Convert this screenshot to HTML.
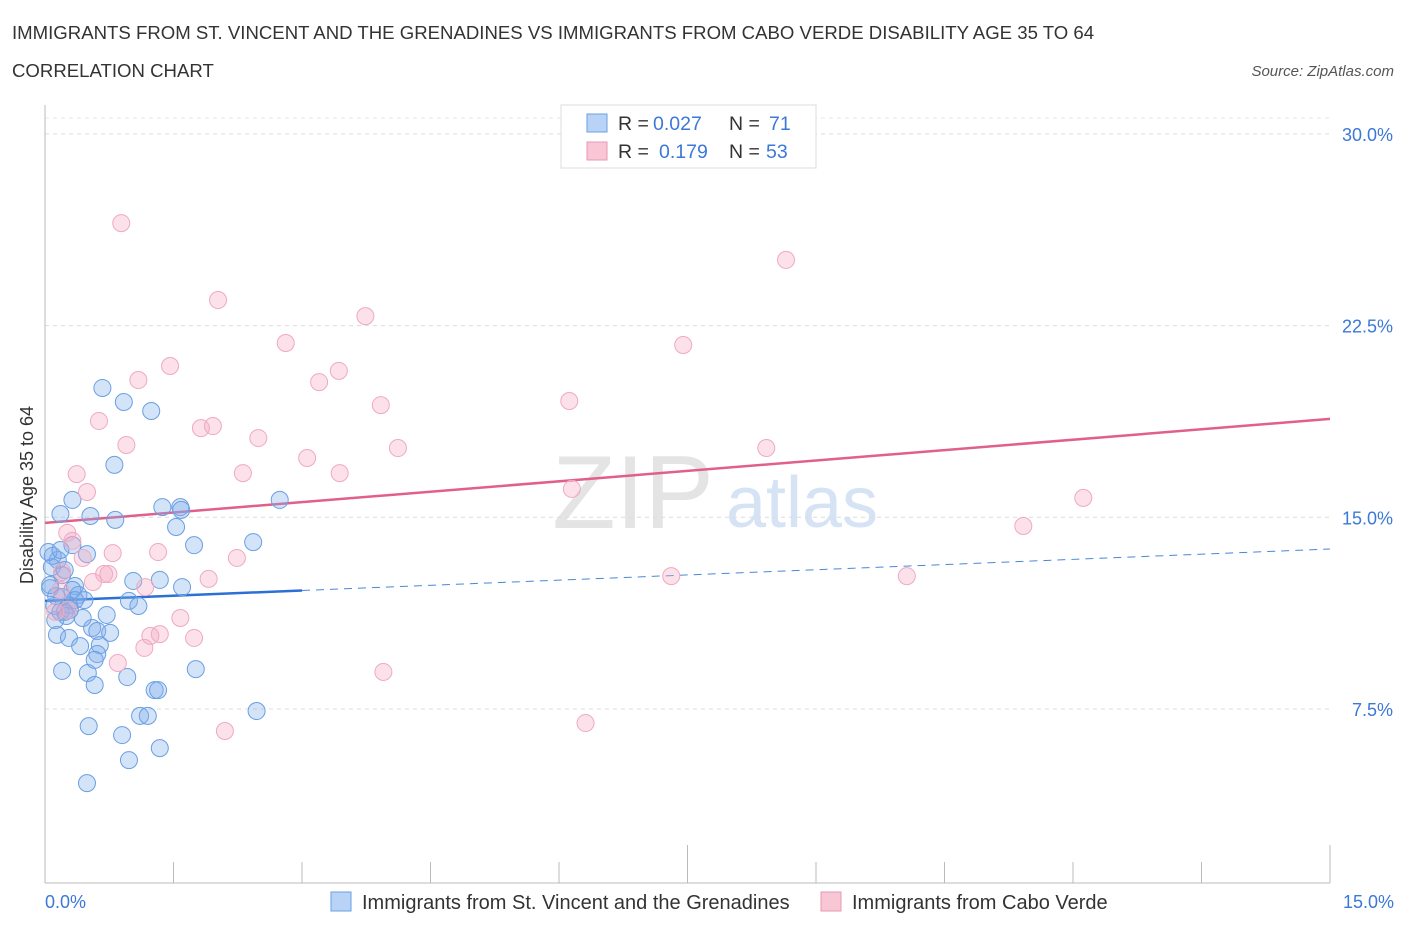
<!DOCTYPE html>
<html><head><meta charset="utf-8"><style>
body{margin:0;background:#fff;font-family:"Liberation Sans",sans-serif;}
svg text{font-family:"Liberation Sans",sans-serif;}
</style></head><body>
<svg width="1406" height="930" xmlns="http://www.w3.org/2000/svg">
<text x="12" y="39" font-size="18.6" fill="#333">IMMIGRANTS FROM ST. VINCENT AND THE GRENADINES VS IMMIGRANTS FROM CABO VERDE DISABILITY AGE 35 TO 64</text>
<text x="12" y="77" font-size="18.6" fill="#333">CORRELATION CHART</text>
<text x="1394" y="76" font-size="15" fill="#555" font-style="italic" text-anchor="end">Source: ZipAtlas.com</text>
<g>
<text x="633" y="528" font-size="104" fill="#e4e4e4" font-family="Liberation Serif" text-anchor="middle">ZIP</text>
<text x="802" y="527" font-size="72" fill="#d6e3f5" text-anchor="middle">atlas</text>
</g>
<g id="grid"></g>
<g id="axes"></g>
<g id="trend"></g>
<g id="pts"></g>
<text x="33" y="495" font-size="18" fill="#333" text-anchor="middle" transform="rotate(-90 33 495)">Disability Age 35 to 64</text>
<text x="45" y="908" font-size="18" fill="#3b78d8">0.0%</text>
<text x="1394" y="908" font-size="18" fill="#3b78d8" text-anchor="end">15.0%</text>
<g>
<rect x="561" y="105" width="255" height="63" fill="#fff" stroke="#ddd"/>
<rect x="587" y="114" width="20" height="18" fill="#b8d3f5" stroke="#6a9fe0"/>
<text x="618" y="130" font-size="19.5" fill="#333">R =</text>
<text x="653" y="130" font-size="19.5" fill="#3b78d8">0.027</text>
<text x="729" y="130" font-size="19.5" fill="#333">N =</text>
<text x="769" y="130" font-size="19.5" fill="#3b78d8">71</text>
<rect x="587" y="142" width="20" height="18" fill="#f8c6d5" stroke="#e899b3"/>
<text x="618" y="158" font-size="19.5" fill="#333">R =</text>
<text x="659" y="158" font-size="19.5" fill="#3b78d8">0.179</text>
<text x="729" y="158" font-size="19.5" fill="#333">N =</text>
<text x="766" y="158" font-size="19.5" fill="#3b78d8">53</text>
</g>
<g>
<rect x="331" y="892" width="20" height="19" fill="#b8d3f5" stroke="#6a9fe0"/>
<text x="362" y="909" font-size="20" fill="#333">Immigrants from St. Vincent and the Grenadines</text>
<rect x="821" y="892" width="20" height="19" fill="#f8c6d5" stroke="#e899b3"/>
<text x="852" y="909" font-size="20" fill="#333">Immigrants from Cabo Verde</text>
</g>
</svg>
<script>
const yTicks=[7.5,15,22.5,30];
const yTickLabels=["7.5%","15.0%","22.5%","30.0%"];
const xTicks=[0,1.5,3,4.5,6,7.5,9,10.5,12,13.5,15];
const blueX=[0.67,0.92,1.24,0.81,0.32,0.18,0.53,0.82,1.37,1.58,1.59,1.53,2.74,2.43,1.74,0.32,0.49,0.15,0.09,0.20,1.03,1.34,1.60,0.35,0.39,0.28,0.46,0.98,1.09,0.72,0.23,0.55,0.61,0.14,0.28,0.64,0.41,0.61,1.76,0.20,0.50,0.58,0.96,1.28,1.32,2.47,1.11,1.20,0.51,0.90,0.98,1.34,0.49,0.06,0.08,0.12,0.23,0.11,0.32,0.18,0.76,0.58,0.04,0.18,0.25,0.44,0.13,0.06,0.35,0.29,0.20];
const blueY=[20.06,19.51,19.16,17.05,15.68,15.13,15.05,14.90,15.40,15.40,15.29,14.62,15.68,14.03,13.91,13.91,13.56,13.33,13.49,12.74,12.51,12.55,12.27,12.31,11.96,11.57,11.76,11.73,11.53,11.18,11.30,10.67,10.55,10.40,10.28,10.00,9.96,9.65,9.06,8.99,8.91,8.44,8.75,8.24,8.24,7.42,7.23,7.23,6.83,6.48,5.50,5.97,4.60,12.23,13.05,10.98,12.94,11.53,12.16,11.30,10.48,9.42,13.64,13.72,11.14,11.06,11.92,12.35,11.76,11.38,11.88];
const pinkX=[0.89,2.02,8.65,3.74,2.81,7.45,1.46,1.09,3.43,3.20,6.12,3.92,0.63,1.82,1.96,2.49,0.95,4.12,8.42,2.31,3.06,3.44,0.37,0.49,6.15,12.12,11.42,0.26,0.32,1.32,2.24,0.79,0.44,0.69,0.74,1.91,1.17,7.31,10.06,0.56,0.20,1.58,1.34,1.23,1.74,1.16,0.85,3.95,6.31,2.10,0.12,0.18,0.27];
const pinkY=[26.51,23.50,25.07,22.87,21.82,21.74,20.92,20.37,20.73,20.29,19.55,19.39,18.77,18.49,18.57,18.10,17.83,17.71,17.71,16.73,17.32,16.73,16.69,15.99,16.11,15.76,14.66,14.39,14.08,13.64,13.41,13.60,13.41,12.78,12.78,12.59,12.27,12.70,12.70,12.47,12.86,11.06,10.43,10.36,10.28,9.89,9.30,8.95,6.95,6.64,11.30,12.16,11.38];
const blueTrend=[11.73,13.76];
const blueSolidEnd=3.0;
const pinkTrend=[14.78,18.85];

const X0=45,X1=1330,Y0=900.7,PPY=25.56;
function sx(v){return X0+v/15*(X1-X0);}
function sy(v){return Y0-v*PPY;}
const NS="http://www.w3.org/2000/svg";
function mk(tag,attrs,parent){const e=document.createElementNS(NS,tag);for(const k in attrs)e.setAttribute(k,attrs[k]);parent.appendChild(e);return e;}
const grid=document.getElementById('grid'),axes=document.getElementById('axes'),trend=document.getElementById('trend'),pts=document.getElementById('pts');
mk('line',{x1:X0,x2:X1,y1:118,y2:118,stroke:'#e6e6e6','stroke-dasharray':'4,4'},grid);
yTicks.forEach((t,i)=>{
  const g=mk('line',{x1:X0,x2:X1,y1:sy(t),y2:sy(t),stroke:'#dcdcdc','stroke-dasharray':'4,4'},grid);
  
  
  const tx=mk('text',{x:1393,y:sy(t)+7,'font-size':18,fill:'#3b78d8','text-anchor':'end'},grid);
  tx.textContent=yTickLabels[i];
  
  
});
const ya=mk('line',{x1:X0,x2:X0,y1:105,y2:883,stroke:'#bbb'},axes);


const xa=mk('line',{x1:X0,x2:X1,y1:883,y2:883,stroke:'#bbb'},axes);


xTicks.forEach((t,i)=>{
  const tk=mk('line',{x1:sx(t),x2:sx(t),y1:(i==5||i==10)?845:862,y2:883,stroke:'#bbb'},axes);
  
  
});
function ty(tr,x){return tr[0]+(tr[1]-tr[0])*x/15;}
const bl=mk('line',{x1:sx(0),y1:sy(ty(blueTrend,0)),x2:sx(blueSolidEnd),y2:sy(ty(blueTrend,blueSolidEnd)),stroke:'#2c6fd6','stroke-width':2.5},trend);


const bd=mk('line',{x1:sx(blueSolidEnd),y1:sy(ty(blueTrend,blueSolidEnd)),x2:sx(15),y2:sy(ty(blueTrend,15)),stroke:'#4a86d8','stroke-width':1,'stroke-dasharray':'8,6'},trend);


const pl=mk('line',{x1:sx(0),y1:sy(ty(pinkTrend,0)),x2:sx(15),y2:sy(ty(pinkTrend,15)),stroke:'#e0608a','stroke-width':2.5},trend);


blueX.forEach((x,i)=>{
  const c=mk('circle',{cx:sx(x),cy:sy(blueY[i]),r:8.5,fill:'rgba(130,175,235,0.35)',stroke:'#6a9fe3','stroke-width':1},pts);
  
  
});
pinkX.forEach((x,i)=>{
  const c=mk('circle',{cx:sx(x),cy:sy(pinkY[i]),r:8.5,fill:'rgba(245,170,195,0.35)',stroke:'#eeaac0','stroke-width':1},pts);
  
  
});
</script>
</body></html>
